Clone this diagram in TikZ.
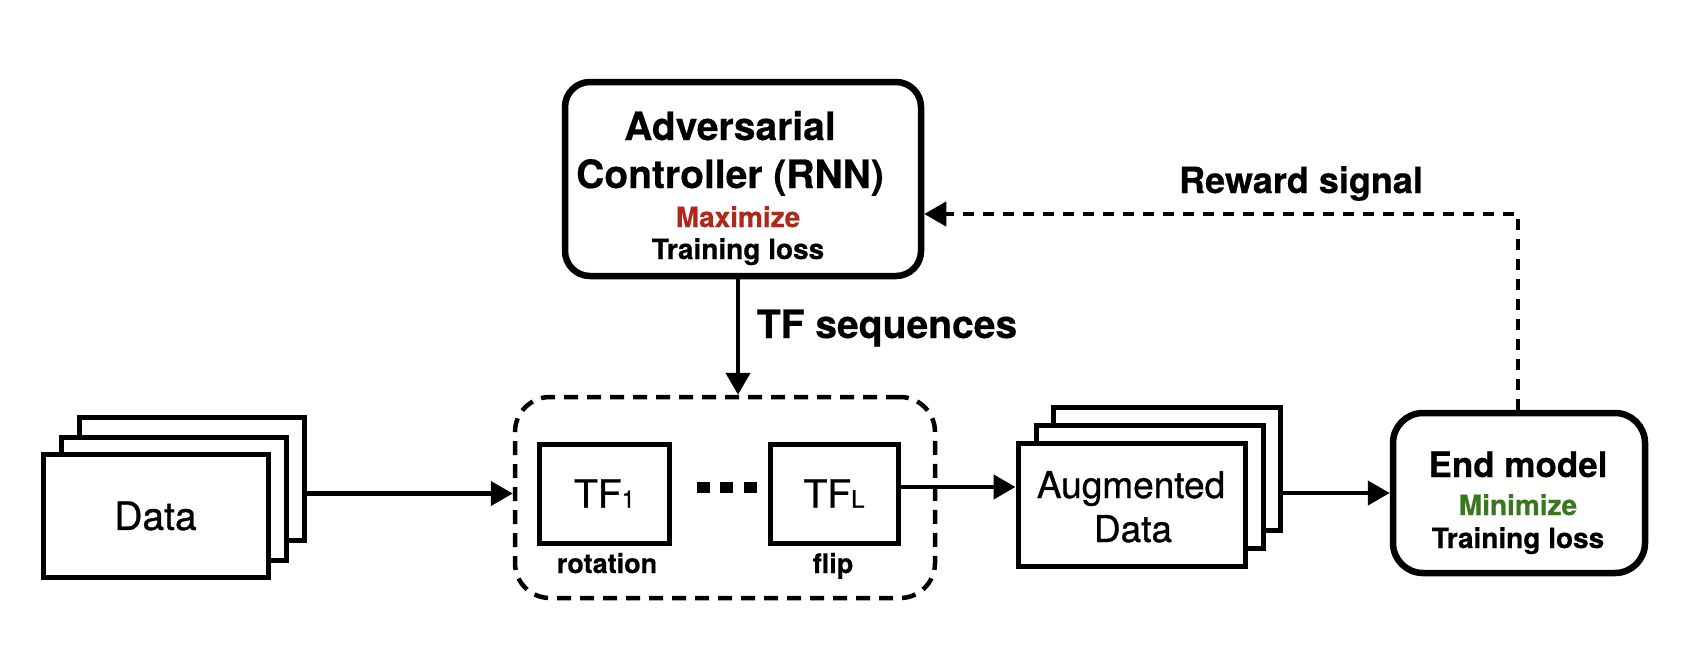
\documentclass[tikz,border=0pt]{standalone}
\usepackage{fontspec}
\setmainfont{TeX Gyre Heros}[UprightFeatures={FakeBold=0.8}, BoldFeatures={FakeBold=0.5}]
\usetikzlibrary{arrows.meta}
\definecolor{maxred}{RGB}{175,40,28}
\definecolor{mingreen}{RGB}{58,118,32}
\newcommand{\fsz}[1]{\fontsize{#1}{#1}\selectfont}
\begin{document}
\begin{tikzpicture}[x=1pt,y=-1pt,
  rbox/.style={draw, line width=6.5pt, fill=white, inner sep=0pt},
  page/.style={draw, line width=5pt, fill=white, inner sep=0pt, minimum width=225pt, minimum height=123pt},
  tfbox/.style={draw, line width=5pt, inner sep=0pt, minimum width=130pt, minimum height=99pt, font=\fsz{39}},
  lbl/.style={anchor=base, inner sep=0pt},
  arr/.style={line width=4.5pt, -{Triangle[length=22pt,width=24pt]}},
  dotsq/.style={fill, inner sep=0pt, minimum width=13pt, minimum height=11pt},
  dashline/.style={dash pattern=on 11pt off 9pt}
]
\useasboundingbox (0,0) rectangle (1702,646);

% Controller
\node[rbox, rounded corners=25pt, minimum width=356pt, minimum height=194pt] (ctrl) at (743,179) {};
\node[lbl, font=\bfseries\fsz{39}] (ctrl1) at (730,140) {Adversarial};
\node[lbl, font=\bfseries\fsz{39}] (ctrl2) at (730,188) {Controller (RNN)};
\node[lbl, font=\bfseries\fsz{28}, text=maxred] (ctrl3) at (738,227) {Maximize};
\node[lbl, font=\bfseries\fsz{28}] (ctrl4) at (738,259) {Training loss};

% End model
\node[rbox, rounded corners=30pt, minimum width=252pt, minimum height=160pt] (endm) at (1519,493) {};
\node[lbl, font=\bfseries\fsz{35}] (end1) at (1518,477) {End model};
\node[lbl, font=\bfseries\fsz{28}, text=mingreen] (end2) at (1518,515) {Minimize};
\node[lbl, font=\bfseries\fsz{28}] (end3) at (1518,548) {Training loss};

% Data stack
\node[page] (data3) at (191.5,478.5) {};
\node[page] (data2) at (173.5,498.5) {};
\node[page, font=\fsz{39}] (data1) at (155.5,516) {Data};

% Augmented data stack
\node[page, minimum width=227pt] (aug3) at (1167,468.5) {};
\node[page, minimum width=227pt] (aug2) at (1149.5,486.5) {};
\node[page, minimum width=227pt] (aug1) at (1131.5,504.5) {};
\node[lbl, font=\fsz{37}] (augt1) at (1131,498) {Augmented};
\node[lbl, font=\fsz{37}] (augt2) at (1133,542) {Data};

% Transformation group
\node[draw, line width=4.5pt, dash pattern=on 14pt off 9pt, rounded corners=35pt, inner sep=0pt,
      minimum width=420pt, minimum height=201pt] (grp) at (725,497.5) {};
\node[tfbox] (tf1) at (604.5,493.5) {TF{\fsz{24}1}};
\node[tfbox, minimum width=128pt] (tfL) at (834,493.5) {TF{\fsz{24}L}};
\node[lbl, font=\bfseries\fsz{27}] (rot) at (607,573) {rotation};
\node[lbl, font=\bfseries\fsz{27}] (flip) at (833,573) {flip};
\node[dotsq] (dot1) at (703.5,487.5) {};
\node[dotsq] (dot2) at (726.5,487.5) {};
\node[dotsq] (dot3) at (750,487.5) {};

% Labels
\node[lbl, font=\bfseries\fsz{39}] (tfseq) at (887,338) {TF sequences};
\node[lbl, font=\bfseries\fsz{36}] (reward) at (1301,193) {Reward signal};

% Connectors
\coordinate (tfx) at (738,0);
\coordinate (tfout) at (898,487);
\coordinate (rcorner) at (1518,214);
\draw[arr] (data3.east |- tf1.center) -- (grp.west |- tf1.center);
\draw[arr] (ctrl.south -| tfx) -- (grp.north -| tfx);
\draw[arr] (tfL.east |- tfout) -- (aug1.west |- tfout);
\draw[arr] (aug3.east |- endm.west) -- (endm.west);
\draw[arr, dashline] (endm.north -| rcorner) -- (rcorner) -- (ctrl.east |- rcorner);
\end{tikzpicture}
\end{document}
